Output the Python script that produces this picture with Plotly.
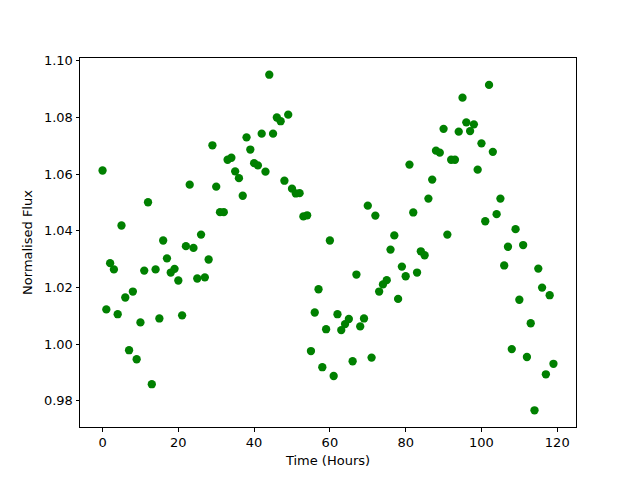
import plotly.graph_objects as go

time_hours = list(range(120))
flux = [
    1.0613, 1.0123, 1.0286, 1.0264, 1.0106, 1.0419, 1.0165, 0.9979, 1.0186, 0.9947,
    1.0077, 1.0260, 1.0501, 0.9859, 1.0264, 1.0091, 1.0366, 1.0303, 1.0253, 1.0266,
    1.0225, 1.0102, 1.0346, 1.0563, 1.0340, 1.0232, 1.0387, 1.0236, 1.0299, 1.0702,
    1.0556, 1.0466, 1.0466, 1.0651, 1.0658, 1.0610, 1.0586, 1.0524, 1.0730, 1.0687,
    1.0639, 1.0631, 1.0743, 1.0609, 1.0951, 1.0743, 1.0800, 1.0787, 1.0577, 1.0810,
    1.0549, 1.0532, 1.0533, 1.0451, 1.0455, 0.9976, 1.0112, 1.0194, 0.9919, 1.0053,
    1.0366, 0.9888, 1.0106, 1.0050, 1.0071, 1.0089, 0.9940, 1.0246, 1.0063, 1.0091,
    1.0489, 0.9953, 1.0454, 1.0186, 1.0211, 1.0226, 1.0334, 1.0384, 1.0160, 1.0274,
    1.0240, 1.0634, 1.0465, 1.0253, 1.0328, 1.0314, 1.0514, 1.0581, 1.0683, 1.0676,
    1.0760, 1.0387, 1.0651, 1.0651, 1.0750, 1.0870, 1.0783, 1.0752, 1.0776, 1.0616,
    1.0709, 1.0434, 1.0915, 1.0679, 1.0459, 1.0514, 1.0278, 1.0344, 0.9983, 1.0406,
    1.0157, 1.0350, 0.9955, 1.0074, 0.9767, 1.0267, 1.0200, 0.9894, 1.0173, 0.9931,
]
x_ticks = [0, 20, 40, 60, 80, 100, 120]
y_ticks = [0.98, 1.00, 1.02, 1.04, 1.06, 1.08, 1.10]

fig = go.Figure()
fig.add_trace(go.Scatter(
    x=time_hours, y=flux, mode="markers",
    marker=dict(color="#008000", size=8.3, line=dict(width=0)),
    showlegend=False,
))

axis_common = dict(
    showgrid=False, zeroline=False, showline=True, linecolor="black", linewidth=1,
    mirror=True, ticks="outside", ticklen=3.5, tickwidth=1, tickcolor="black",
    automargin=False,
    tickfont=dict(family="DejaVu Sans", size=13, color="black"),
)

# page body has an 8px default margin, so offsets compensate for it
fig.update_layout(
    width=640, height=480,
    margin=dict(l=72, r=72, t=50, b=61),
    paper_bgcolor="white", plot_bgcolor="white",
    font=dict(family="DejaVu Sans", size=13, color="black"),
    xaxis=dict(range=[-5.95, 124.95], tickvals=x_ticks,
               title=dict(text="Time (Hours)", standoff=6,
                          font=dict(family="DejaVu Sans", size=13, color="black")),
               **axis_common),
    yaxis=dict(range=[0.9708, 1.1010], tickvals=y_ticks, tickformat=".2f",
               title=dict(text="Normalised Flux", standoff=8,
                          font=dict(family="DejaVu Sans", size=13, color="black")),
               **axis_common),
)

fig.write_html("out.html")
